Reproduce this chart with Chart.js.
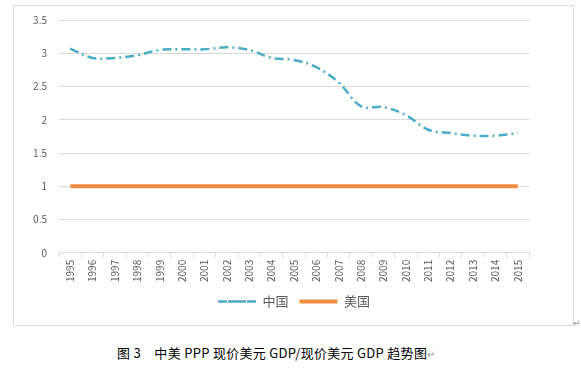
<!DOCTYPE html>
<html>
<head>
<meta charset="utf-8">
<script src="https://cdn.jsdelivr.net/npm/chart.js@4/dist/chart.umd.min.js"></script>
<style>
  body { margin: 0; background: #fff; width: 581px; height: 371px; position: relative; overflow: hidden; }
  #box { position: absolute; left: 13px; top: 5px; width: 559px; height: 319px; border: 1px solid #d9d9d9; }
  #box canvas { position: absolute; left: 0; top: 0; }
  #caption { position: absolute; left: 117px; top: 343px; font: 13px "Noto Sans CJK SC", sans-serif; color: #000; white-space: pre; letter-spacing: 0.3px; }
  #mark { position: absolute; left: 573px; top: 318px; font: 9px "DejaVu Sans", sans-serif; color: #999; }
</style>
</head>
<body>
<div id="box"><canvas id="chart" width="559" height="319"></canvas></div>
<div id="caption">图 3　中美 PPP 现价美元 GDP/现价美元 GDP 趋势图<span style="color:#999;font-size:10px">↵</span></div>
<div id="mark">↵</div>
<script>
const years = ["1995", "1996", "1997", "1998", "1999", "2000", "2001", "2002", "2003", "2004", "2005",
  "2006", "2007", "2008", "2009", "2010", "2011", "2012", "2013", "2014", "2015"]
const china = [3.07, 2.93, 2.93, 2.97, 3.05, 3.06, 3.06, 3.09, 3.05, 2.93, 2.9,
  2.79, 2.56, 2.2, 2.19, 2.07, 1.85, 1.8, 1.76, 1.76, 1.8]
const usa = [1, 1, 1, 1, 1, 1, 1, 1, 1, 1, 1, 1, 1, 1, 1, 1, 1, 1, 1, 1, 1]
const yTicks = [0, 0.5, 1, 1.5, 2, 2.5, 3, 3.5]

const tickFont = { family: "'Noto Sans CJK SC', sans-serif", size: 10 }

new Chart(document.getElementById("chart").getContext("2d"), {
  type: "line",
  data: {
    labels: years,
    datasets: [
      {
        label: "中国",
        data: china,
        borderColor: "#4BACC6",
        backgroundColor: "#4BACC6",
        borderWidth: 2.5,
        borderDash: [9, 4, 2, 4],
        pointRadius: 0,
        tension: 0.35,
        fill: false,
      },
      {
        label: "美国",
        data: usa,
        borderColor: "#F0903F",
        backgroundColor: "#F0903F",
        borderWidth: 4,
        pointRadius: 0,
        fill: false,
      },
    ],
  },
  options: {
    responsive: false,
    animation: false,
    layout: { padding: { top: 14, right: 44, left: 0, bottom: 7 } },
    plugins: {
      tooltip: { enabled: false },
      legend: {
        position: "bottom",
        fullSize: false,
        labels: {
          boxWidth: 38,
          boxHeight: 0,
          padding: 11,
          color: "#595959",
          font: { family: "'Noto Sans CJK SC', sans-serif", size: 13 },
        },
      },
    },
    scales: {
      x: {
        offset: true,
        grid: { offset: true, drawOnChartArea: false, drawTicks: true, tickLength: 5, color: "#d9d9d9" },
        border: { color: "#d9d9d9" },
        ticks: { maxRotation: 90, minRotation: 90, color: "#595959", font: tickFont, padding: 2, autoSkip: false },
      },
      y: {
        min: 0,
        max: 3.5,
        afterBuildTicks: (scale) => {
          scale.ticks = yTicks.map((v) => ({ value: v }))
        },
        afterFit: (scale) => {
          scale.width = 45
          scale.paddingTop = 0
          scale.paddingBottom = 0
        },
        grid: { color: "#d9d9d9", drawTicks: false },
        border: { display: false },
        ticks: { color: "#595959", font: tickFont, padding: 12, callback: (v) => String(v) },
      },
    },
  },
})
</script>
</body>
</html>
